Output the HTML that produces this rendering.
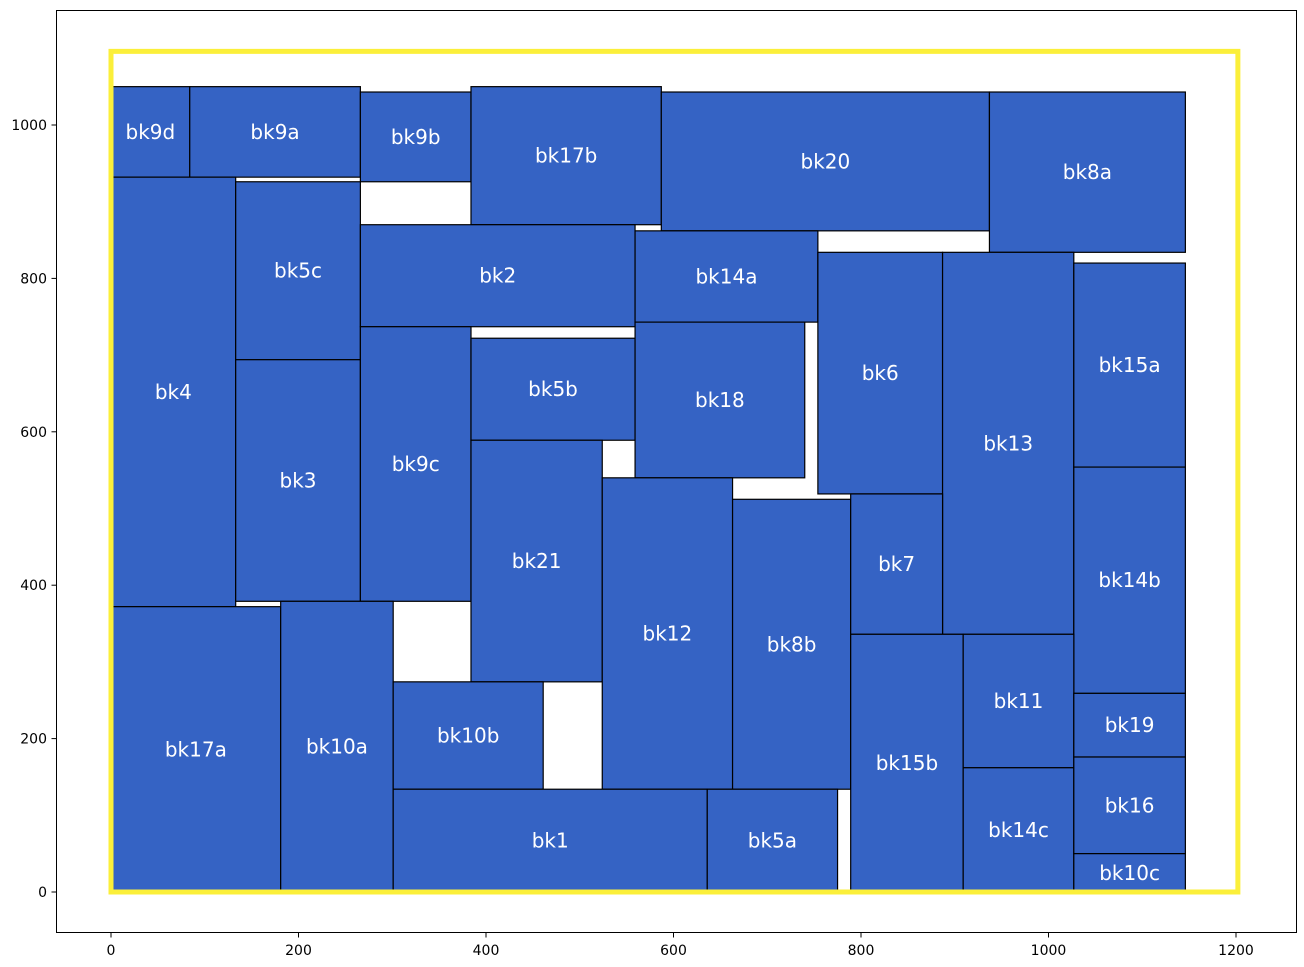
<!DOCTYPE html>
<html><head><meta charset="utf-8"><style>
body{margin:0;background:#fff}
svg{display:block;font-family:"DejaVu Sans","Liberation Sans",sans-serif}
</style></head><body>
<svg id="chart" width="1304" height="967"></svg>
<script>
const names=["bk9d","bk9a","bk9b","bk17b","bk20","bk8a","bk4","bk5c","bk3","bk2","bk14a","bk9c","bk5b","bk18","bk6","bk13","bk15a","bk21","bk12","bk8b","bk7","bk14b","bk17a","bk10a","bk10b","bk1","bk5a","bk15b","bk11","bk14c","bk19","bk16","bk10c"];
const x0s=[0,84,266,384,587,937,0,133,133,266,559,266,384,559,754,887,1027,384,524,663,789,1027,0,181,301,301,636,789,909,909,1027,1027,1027];
const y0s=[932,932,926,870,862,834,372,694,379,737,743,379,589,540,519,336,554,274,134,134,336,259,0,0,134,0,0,0,162,0,176,50,0];
const x1s=[84,266,384,587,937,1146,133,266,266,559,754,384,559,740,887,1027,1146,524,663,789,887,1146,181,301,461,636,775,909,1027,1027,1146,1146,1146];
const y1s=[1050,1050,1043,1050,1043,1043,932,926,694,870,862,737,722,743,834,834,820,589,540,512,519,554,372,379,274,134,134,336,336,162,259,176,50];
const xTicks=[0,200,400,600,800,1000,1200];
const yTicks=[0,200,400,600,800,1000];
const boundary=[0,0,1202,1096];

const NS="http://www.w3.org/2000/svg";
const svg=document.getElementById('chart');
const sx=v=>111+v*0.9375;
const sy=v=>892-v*0.767;
function mk(t,a,p){const e=document.createElementNS(NS,t);for(const k in a)e.setAttribute(k,a[k]);(p||svg).appendChild(e);return e;}

for(let i=0;i<names.length;i++){
  const r=mk('rect',{x:sx(x0s[i]),y:sy(y1s[i]),width:sx(x1s[i])-sx(x0s[i]),height:sy(y0s[i])-sy(y1s[i]),fill:'#3563c4',stroke:'#000','stroke-width':1.2});
  
  
  const t=mk('text',{x:(sx(x0s[i])+sx(x1s[i]))/2,y:(sy(y0s[i])+sy(y1s[i]))/2+7,fill:'#fff','font-size':20,'text-anchor':'middle'});
  t.textContent=names[i];
  
  
}
const b=mk('rect',{x:sx(boundary[0]),y:sy(boundary[3]),width:sx(boundary[2])-sx(boundary[0]),height:sy(boundary[1])-sy(boundary[3]),fill:'none',stroke:'#fbef3a','stroke-width':5});



const fr=mk('rect',{x:56.5,y:10.5,width:1240,height:922,fill:'none',stroke:'#000','stroke-width':1});



xTicks.forEach(v=>{
  const l=mk('line',{x1:sx(v),x2:sx(v),y1:932.5,y2:937.5,stroke:'#000'});
  
  
  const t=mk('text',{x:sx(v),y:955,'font-size':14,'text-anchor':'middle',fill:'#000'});
  t.textContent=v;
  
  
});
yTicks.forEach(v=>{
  const l=mk('line',{x1:51.5,x2:56.5,y1:sy(v),y2:sy(v),stroke:'#000'});
  
  
  const t=mk('text',{x:47,y:sy(v)+5,'font-size':14,'text-anchor':'end',fill:'#000'});
  t.textContent=v;
  
  
});
</script>
</body></html>
